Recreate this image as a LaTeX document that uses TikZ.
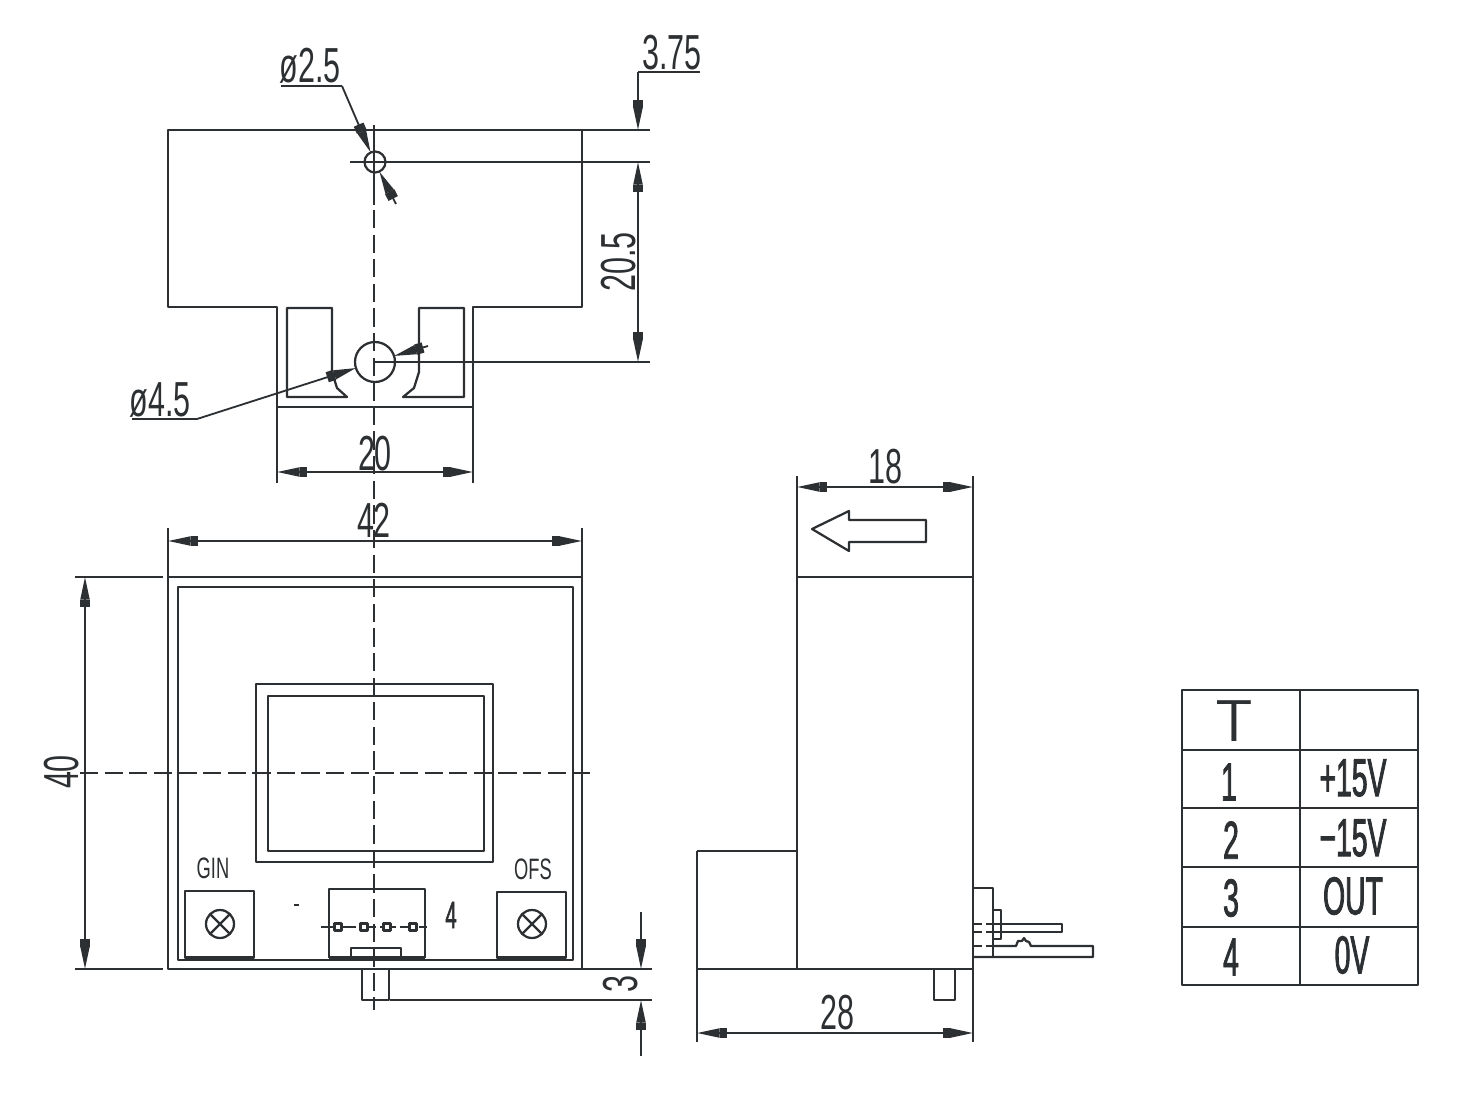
\documentclass[tikz,border=0pt]{standalone}
\usepackage{fontspec}
\usetikzlibrary{arrows.meta}
\newfontfamily\cadfont[FakeStretch=0.62]{Liberation Sans}
\newfontfamily\tablefont[FakeStretch=0.53,FakeBold=1.5]{Liberation Sans}
\definecolor{myink}{RGB}{45, 48, 50}
\tikzset{
    cadtip/.tip={Rectangle[length=5.5pt,width=7.5pt]Triangle[length=16pt,width=6.4pt]}
}
\begin{document}
\begin{tikzpicture}[
        x=0.025cm, y=-0.025cm,
        part/.style={line width=1.6pt, draw=myink, line join=round},
        center_line/.style={line width=1.5pt, draw=myink, dash pattern=on 13pt off 4.5pt},
        dim_line/.style={line width=1.3pt, draw=myink},
        dim_arrow/.style={dim_line, {cadtip}-{cadtip}},
        dim_label/.style={font=\cadfont\fontsize{35}{35}\selectfont, text=myink, inner sep=0pt},
        small_label/.style={font=\cadfont\fontsize{21}{21}\selectfont, text=myink, inner sep=0pt},
        table_label/.style={font=\tablefont\fontsize{38}{38}\selectfont, text=myink, inner sep=0pt}
    ]
        \useasboundingbox (0,0) rectangle (1476,1098);

        % top view
        \draw[part] (168,130) -- (582,130) -- (582,307) -- (473,307) -- (473,407) -- (277,407) -- (277,307) -- (168,307) -- cycle;
        \draw[part] (332,308) -- (287,308) -- (287,397) -- (347,397) -- (337,388) -- (332,372) -- cycle;
        \draw[part] (419,308) -- (464,308) -- (464,397) -- (403,397) -- (414,388) -- (419,372) -- cycle;
        \draw[part] (375,162) circle (10.5);
        \draw[part] (375,362) circle (20);

        % front view
        \draw[part] (168,577) rectangle (582,969);
        \draw[part] (178,587) rectangle (573,960);
        \draw[part] (256,684) rectangle (493,862);
        \draw[part] (268,696) rectangle (484,851);
        \draw[part] (185,891) rectangle (254,958);
        \draw[part] (497,892) rectangle (566,958);
        \draw[part, line width=2.4pt] (185,958) -- (254,958);
        \draw[part, line width=2.4pt] (497,958) -- (566,958);
        \draw[part] (329,958) -- (329,889) -- (425,889) -- (425,958);
        \draw[part, line width=2.4pt] (329,958) -- (425,958);
        \draw[part] (351,958) -- (351,948) -- (401,948) -- (401,958);
        \draw[part] (362,969) -- (362,1000) -- (389,1000) -- (389,969);
        \draw[part] (220,924) circle (14);
        \draw[part] (210,914) -- (230,934);
        \draw[part] (230,914) -- (210,934);
        \draw[part] (532,924) circle (14);
        \draw[part] (522,914) -- (542,934);
        \draw[part] (542,914) -- (522,934);
        \draw[part, dash pattern=on 11pt off 3pt] (321,927) -- (427,927);
        \foreach \px in {338,364,387,413}
            \draw[part, fill=white] (\px-3.5,923.5) rectangle (\px+3.5,930.5);
        \draw[part] (294,905) -- (299,905);

        % center lines
        \draw[part] (374,125) -- (374,205);
        \draw[center_line] (374,210) -- (374,1010);
        \draw[center_line] (80,773) -- (596,773);
        \draw[part] (350,162) -- (392,162);

        % side view
        \draw[part] (797,577) -- (973,577);
        \draw[part] (797,476) -- (797,969);
        \draw[part] (973,476) -- (973,969);
        \draw[part] (697,851) -- (797,851);
        \draw[part] (697,851) -- (697,1042);
        \draw[part] (697,969) -- (973,969);
        \draw[part] (973,969) -- (973,1042);
        \draw[part] (934,969) -- (934,1000) -- (955,1000) -- (955,969);
        \draw[part] (812,529) -- (849,511) -- (849,520) -- (926,520) -- (926,542) -- (849,542) -- (849,551) -- cycle;
        \draw[part] (974,888) -- (993,888) -- (993,957);
        \draw[part] (993,910) -- (1001,910) -- (1001,939) -- (993,939);
        \draw[part] (993,924) -- (1062,924) -- (1062,932) -- (993,932);
        \draw[part] (974,957) -- (1093,957) -- (1093,946) -- (1031,946) -- (1029,942) -- (1026,941) -- (1024,938) -- (1022,941) -- (1018,941) -- (1016,946) -- (993,946);
        \draw[part, dash pattern=on 6pt off 2.5pt] (974,924) -- (993,924);
        \draw[part, dash pattern=on 6pt off 2.5pt] (974,932) -- (993,932);
        \draw[part, dash pattern=on 6pt off 2.5pt] (974,946) -- (993,946);

        % extension lines
        \draw[dim_line] (582,130) -- (650,130);
        \draw[dim_line] (392,162) -- (650,162);
        \draw[dim_line] (375,362) -- (650,362);
        \draw[dim_line] (277,407) -- (277,483);
        \draw[dim_line] (473,407) -- (473,483);
        \draw[dim_line] (168,528) -- (168,577);
        \draw[dim_line] (582,528) -- (582,577);
        \draw[dim_line] (75,577) -- (163,577);
        \draw[dim_line] (75,969) -- (163,969);
        \draw[dim_line] (582,969) -- (652,969);
        \draw[dim_line] (390,1000) -- (652,1000);

        % dimensions
        \draw[dim_line] (700,72) -- (638,72);
        \draw[dim_line, -{cadtip}] (638,72) -- (638,130);
        \draw[dim_arrow] (638,162) -- (638,362);
        \draw[dim_arrow] (277,472) -- (473,472);
        \draw[dim_arrow] (168,541) -- (582,541);
        \draw[dim_arrow] (85,577) -- (85,969);
        \draw[dim_arrow] (797,487) -- (973,487);
        \draw[dim_arrow] (697,1033) -- (973,1033);
        \draw[dim_line, -{cadtip}] (641,912) -- (641,969);
        \draw[dim_line, -{cadtip}] (641,1056) -- (641,1000);

        % hole leaders
        \draw[dim_line] (281,86) -- (342,86);
        \draw[dim_line, -{cadtip}] (342,86) -- (370.6,152.4);
        \draw[dim_line, -{cadtip}] (396,204) -- (379.4,171.6);
        \draw[dim_line] (132,419) -- (197,419);
        \draw[dim_line, -{cadtip}] (197,419) -- (356,368);
        \draw[dim_line, -{cadtip}] (428,346) -- (394,356);

        % labels
        \node[dim_label] (d25) at (310,66) {ø2.5};
        \node[dim_label] (d45) at (160,400) {ø4.5};
        \node[dim_label] (d375) at (672,53) {3.75};
        \node[dim_label, rotate=90] (d205) at (619,262) {20.5};
        \node[dim_label] (d20) at (375,454) {20};
        \node[dim_label] (d42) at (374,520) {42};
        \node[dim_label, rotate=90] (d40) at (62,772) {40};
        \node[dim_label, rotate=90] (d3) at (621,984) {3};
        \node[dim_label] (d18) at (885,467) {18};
        \node[dim_label] (d28) at (837,1013) {28};
        \node[small_label] (gin) at (213,868) {GIN};
        \node[small_label] (ofs) at (533,869) {OFS};
        \node[small_label, font=\tablefont\fontsize{27}{27}\selectfont] (pin4) at (451,915) {4};

        % pin table
        \draw[part] (1182,690) rectangle (1418,985);
        \draw[part] (1300,690) -- (1300,985);
        \foreach \py in {750,808,867,927}
            \draw[part] (1182,\py) -- (1418,\py);
        \node[table_label, font=\sffamily\fontsize{42}{42}\selectfont] (head) at (1234,721) {T};
        \node[table_label] (n1) at (1229,782) {1};
        \node[table_label] (n2) at (1231,840) {2};
        \node[table_label] (n3) at (1231,898) {3};
        \node[table_label] (n4) at (1231,957) {4};
        \node[table_label] (s1) at (1353,778) {+15V};
        \node[table_label] (s2) at (1353,838) {−15V};
        \node[table_label] (s3) at (1353,896) {OUT};
        \node[table_label] (s4) at (1352,955) {0V};
\end{tikzpicture}
\end{document}
